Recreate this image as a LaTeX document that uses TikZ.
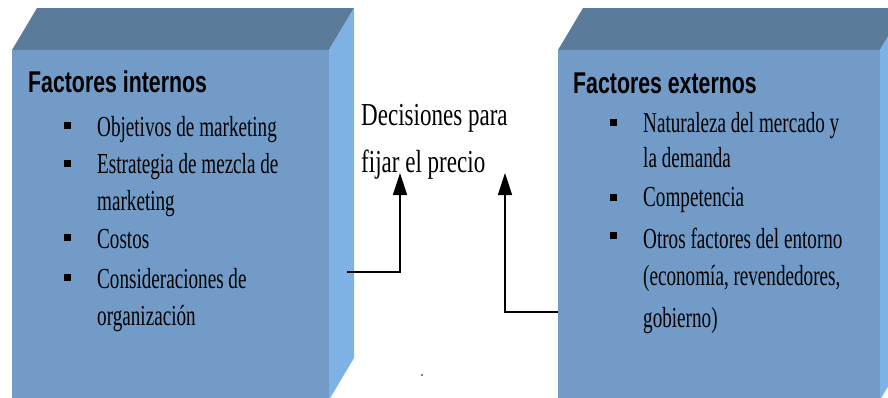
\documentclass[tikz,border=0pt]{standalone}
\usepackage{fontspec}
\setmainfont{Liberation Serif}
\newfontfamily\headfont{Liberation Sans}[FakeStretch=0.71]
\newfontfamily\itemfont{Liberation Serif}[FakeStretch=0.66]
\newfontfamily\midfont{Liberation Serif}[FakeStretch=0.72]
\usetikzlibrary{arrows.meta}
\definecolor{frontblue}{HTML}{729BC7}
\definecolor{topblue}{HTML}{5B7B9B}
\definecolor{sideblue}{HTML}{7EB2E4}
\tikzset{
  head/.style={anchor=base west, inner sep=0pt, font=\headfont\bfseries\fontsize{30}{30}\selectfont},
  item/.style={anchor=base west, inner sep=0pt, font=\itemfont\fontsize{29}{29}\selectfont},
  midtext/.style={anchor=base west, inner sep=0pt, font=\midfont\fontsize{32}{32}\selectfont},
  bulletsq/.style={fill=black, minimum size=7pt, inner sep=0pt},
  link/.style={line width=1.3pt, -{Triangle[length=22pt,width=14pt]}}
}
% draws a block with its front face from (#1,#2) to (#3,#4) and depth (25,-42)
\newcommand{\solidblock}[4]{%
  \fill[topblue] (#1,#2) -- (#1+25,#2-42) -- (#3+25,#2-42) -- (#3,#2) -- cycle;
  \fill[sideblue] (#3,#2) -- (#3+25,#2-42) -- (#3+25,#4-42) -- (#3,#4) -- cycle;
  \fill[frontblue] (#1,#2) rectangle (#3,#4);
}
\begin{document}
\begin{tikzpicture}[x=1pt,y=-1pt]
\useasboundingbox (0,0) rectangle (888,397);
\fill[white] (0,0) rectangle (888,397);
\begin{scope}
\clip (0,0) rectangle (888,397);
\solidblock{12}{50}{329}{400}
\solidblock{558}{50}{880}{400}
\end{scope}

% internal factors
\node[head] (ti) at (28,92) {Factores internos};
\node[bulletsq] (bi1) at (67,125) {};
\node[bulletsq] (bi2) at (67,163) {};
\node[bulletsq] (bi3) at (67,237) {};
\node[bulletsq] (bi4) at (67,277) {};
\node[item] (i1) at (97,136) {Objetivos de marketing};
\node[item] (i2) at (97,173) {Estrategia de mezcla de};
\node[item] (i2b) at (97,210) {marketing};
\node[item] (i3) at (97,248) {Costos};
\node[item] (i4) at (97,288) {Consideraciones de};
\node[item] (i4b) at (97,325) {organización};

% external factors
\node[head] (te) at (573,93) {Factores externos};
\node[bulletsq] (be1) at (613,122) {};
\node[bulletsq] (be2) at (613,197) {};
\node[bulletsq] (be3) at (613,235) {};
\node[item] (e1) at (643,132) {Naturaleza del mercado y};
\node[item] (e1b) at (643,167) {la demanda};
\node[item] (e2) at (643,206) {Competencia};
\node[item] (e3) at (643,248) {Otros factores del entorno};
\node[item] (e3b) at (643,285) {(economía, revendedores,};
\node[item] (e3c) at (643,327) {gobierno)};

% decision
\node[midtext] (d1) at (361,125) {Decisiones para};
\node[midtext] (d2) at (361,172) {fijar el precio};

% connectors
\coordinate (lstart) at (347,272);
\coordinate (ltip) at (400,173);
\coordinate (rstart) at (558,312);
\coordinate (rtip) at (505,173);
\draw[link] (lstart) -| (ltip);
\draw[link] (rstart) -| (rtip);

\fill (422,375) circle (0.8pt);
\end{tikzpicture}
\end{document}
